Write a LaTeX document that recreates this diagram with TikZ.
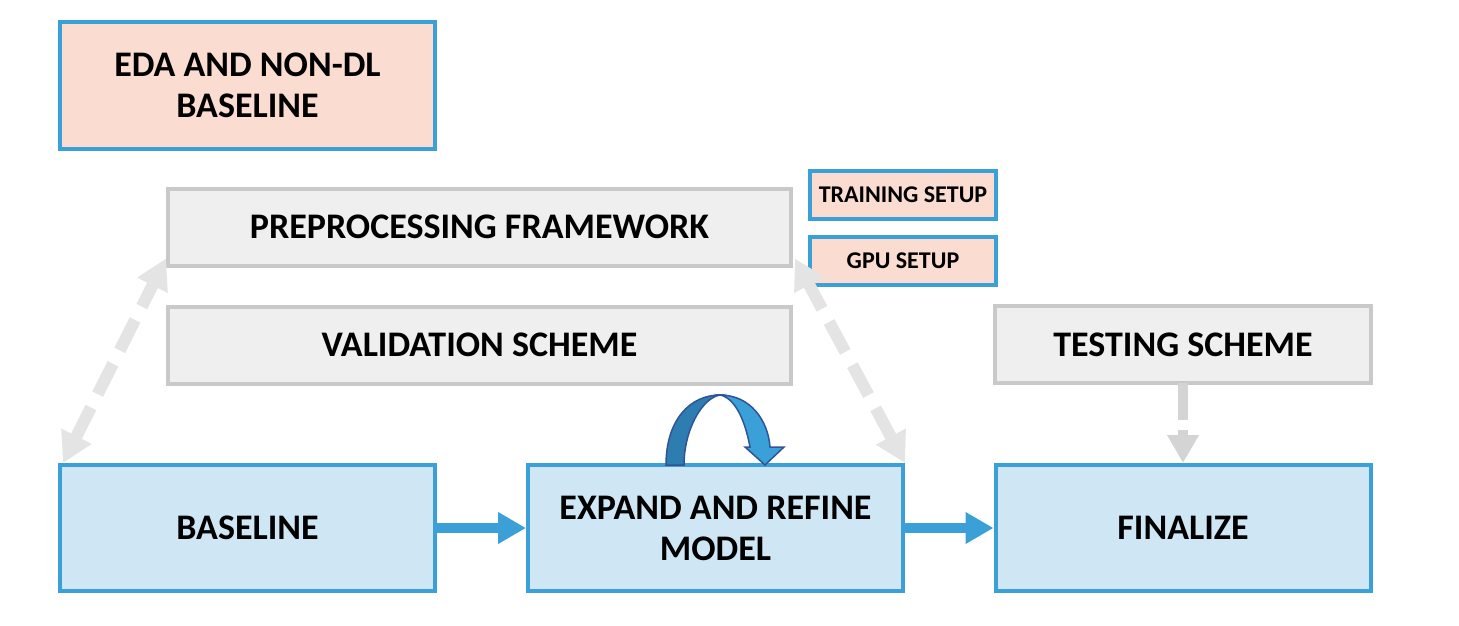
\documentclass[tikz,border=0pt]{standalone}
\usepackage{fontspec}
\setmainfont{Carlito}
\usetikzlibrary{arrows.meta}
\definecolor{boxblue}{HTML}{3BA0D8}
\definecolor{fillblue}{HTML}{CFE6F4}
\definecolor{fillpeach}{HTML}{FADCD0}
\definecolor{fillgray}{HTML}{EFEFEF}
\definecolor{linegray}{HTML}{C9C9C9}
\definecolor{dashgray}{HTML}{E4E4E4}
\definecolor{downgray}{HTML}{D4D4D4}
\definecolor{loopdark}{HTML}{2E7DB0}
\definecolor{loopedge}{HTML}{2F5597}
\tikzset{
  stage/.style={draw=boxblue, fill=fillblue, line width=4pt, align=center,
    minimum width=375pt, minimum height=126pt, inner sep=0pt,
    font=\fontsize{36}{41}\selectfont\bfseries},
  prep/.style={stage, fill=fillpeach},
  scheme/.style={stage, draw=linegray, fill=fillgray, minimum height=77pt},
  setup/.style={stage, fill=fillpeach, minimum width=186pt, minimum height=48pt,
    font=\fontsize{24}{28}\selectfont\bfseries},
  flow/.style={draw=boxblue, line width=10pt, -{Triangle[length=28pt,width=30pt]}},
  link/.style={draw=dashgray, line width=12pt, dash pattern=on 34pt off 15pt,
    {Triangle[length=30pt,width=32pt]}-{Triangle[length=30pt,width=32pt]}},
}
\begin{document}
\begin{tikzpicture}[x=1pt,y=-1pt]
\useasboundingbox (0,0) rectangle (1459,626);
% upper row
\node[prep] (eda) at (247.5,85.5) {EDA AND NON-DL\\BASELINE};
\node[scheme, minimum width=623pt] (preproc) at (479.5,227) {PREPROCESSING FRAMEWORK};
\node[setup] (training) at (903,195) {TRAINING SETUP};
\node[setup] (gpu) at (903,261) {GPU SETUP};
\node[scheme, minimum width=623pt] (valid) at (479.5,345) {VALIDATION SCHEME};
\node[scheme, minimum width=376pt] (testing) at (1183,344.5) {TESTING SCHEME};
% lower row
\node[stage] (baseline) at (247.5,528) {BASELINE};
\node[stage] (expand) at (715.5,528) {EXPAND AND REFINE\\MODEL};
\node[stage] (finalize) at (1183,528) {FINALIZE};
% connectors
\draw[flow] (baseline.east) -- (expand.west);
\draw[flow] (expand.east) -- (finalize.west);
\draw[link] ([xshift=5pt]baseline.north west) -- ([yshift=9pt]preproc.south west);
\draw[link] (expand.north east) -- ([xshift=2pt,yshift=9pt]preproc.south east);
\draw[draw=downgray, line width=10pt, dash pattern=on 37pt off 10pt,
  -{Triangle[length=28pt,width=30pt]}] ([yshift=2pt]testing.south) -- (finalize.north);
% loop arrow on top of expand
\fill[loopdark, draw=loopedge, line width=1.5pt]
  (666,465) .. controls (666,420) and (690,395) .. (720,395)
  .. controls (702,398) and (684,430) .. (684,465) -- cycle;
\fill[boxblue, draw=loopedge, line width=1.5pt]
  (720,395) .. controls (750,395) and (768,420) .. (770,447)
  -- (784,447) -- (765,465) -- (745,447) -- (750,447)
  .. controls (745,420) and (735,398) .. (720,395) -- cycle;
\end{tikzpicture}
\end{document}
